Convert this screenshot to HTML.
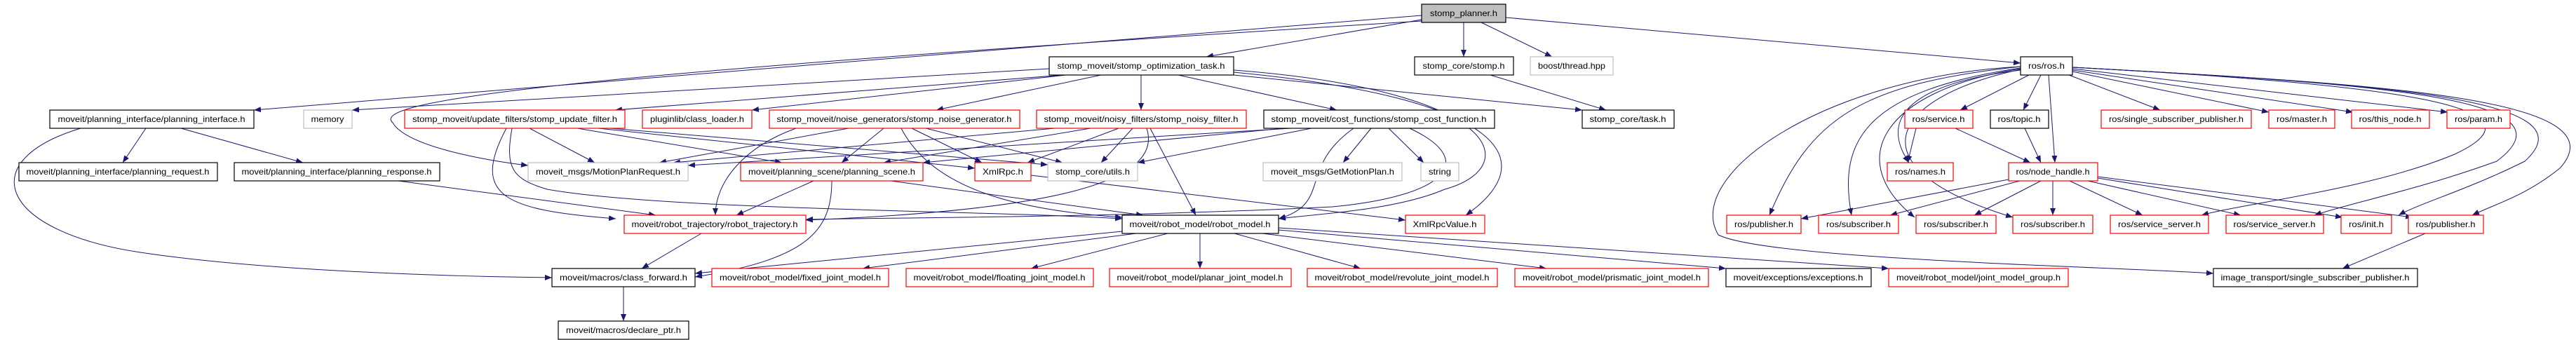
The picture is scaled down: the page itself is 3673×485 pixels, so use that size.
<!DOCTYPE html>
<html><head><meta charset="utf-8"><style>
html,body{margin:0;padding:0;background:#fff;}
svg{display:block;}
text{font-family:"Liberation Sans",sans-serif;font-size:12px;fill:#000;}
.e{stroke:#191970;stroke-width:1;fill:none;marker-end:url(#a);}
.b{fill:#fff;stroke:#000;stroke-width:1.2;}
.r{fill:#fff;stroke:#ff0000;stroke-width:1.2;}
.g{fill:#fff;stroke:#bfbfbf;stroke-width:1.2;}
</style></head><body>
<svg width="3673" height="485" viewBox="0 0 3673 485" xmlns="http://www.w3.org/2000/svg">
<defs><marker id="a" markerWidth="10" markerHeight="8" refX="10" refY="4" orient="auto" markerUnits="userSpaceOnUse"><polygon points="0,0 10,4 0,8" fill="#191970"/></marker></defs>
<g>
<line class="e" x1="2027" y1="28" x2="1720" y2="81"/>
<line class="e" x1="2027" y1="22" x2="362" y2="157"/>
<path class="e" d="M2027,30 C900,100 520,140 560,175 C580,210 700,230 753,236"/>
<line class="e" x1="2087" y1="32" x2="2087" y2="81"/>
<line class="e" x1="2112" y1="32" x2="2213" y2="81"/>
<line class="e" x1="2147" y1="25" x2="2881" y2="90"/>
<line class="e" x1="1496" y1="98" x2="502" y2="157"/>
<line class="e" x1="1516" y1="107" x2="877" y2="157"/>
<line class="e" x1="1520" y1="107" x2="1072" y2="157"/>
<line class="e" x1="1570" y1="107" x2="1335" y2="157"/>
<line class="e" x1="1627" y1="107" x2="1627" y2="157"/>
<line class="e" x1="1680" y1="107" x2="1906" y2="157"/>
<line class="e" x1="1759" y1="107" x2="2256" y2="157"/>
<path class="e" d="M1759,100 C2150,130 2170,240 2060,270 C1990,300 1880,305 1823,312"/>
<path class="e" d="M1759,103 C2150,140 2200,230 2090,307"/>
<line class="e" x1="2125" y1="107" x2="2290" y2="157"/>
<line class="e" x1="208" y1="183" x2="175" y2="232"/>
<line class="e" x1="258" y1="183" x2="432" y2="232"/>
<path class="e" d="M115,183 C-40,230 0,330 200,360 C400,390 700,395 787,396"/>
<line class="e" x1="568" y1="258" x2="935" y2="307"/>
<line class="e" x1="755" y1="183" x2="848" y2="232"/>
<path class="e" d="M722,183 C670,280 720,300 878,312"/>
<path class="e" d="M730,183 C720,240 730,255 780,270 C950,300 1400,300 1600,312"/>
<line class="e" x1="823" y1="183" x2="1115" y2="232"/>
<line class="e" x1="853" y1="183" x2="1390" y2="240"/>
<line class="e" x1="870" y1="183" x2="1494" y2="235"/>
<path class="e" d="M1135,183 C1060,210 1020,260 1020,307"/>
<line class="e" x1="1210" y1="183" x2="940" y2="232"/>
<line class="e" x1="1260" y1="183" x2="1200" y2="232"/>
<line class="e" x1="1300" y1="183" x2="1400" y2="232"/>
<line class="e" x1="1320" y1="183" x2="1515" y2="232"/>
<path class="e" d="M1285,183 C1330,270 1450,300 1600,310"/>
<line class="e" x1="1504" y1="183" x2="960" y2="232"/>
<line class="e" x1="1555" y1="183" x2="1260" y2="232"/>
<line class="e" x1="1595" y1="183" x2="1465" y2="232"/>
<line class="e" x1="1615" y1="183" x2="1570" y2="232"/>
<line class="e" x1="1640" y1="183" x2="1705" y2="307"/>
<path class="e" d="M1635,183 C1660,260 1500,300 1149,314"/>
<line class="e" x1="1840" y1="183" x2="981" y2="236"/>
<line class="e" x1="1870" y1="183" x2="1622" y2="232"/>
<line class="e" x1="1830" y1="183" x2="1316" y2="232"/>
<line class="e" x1="1955" y1="183" x2="1915" y2="232"/>
<line class="e" x1="1980" y1="183" x2="2030" y2="232"/>
<path class="e" d="M1930,183 C1850,240 1900,290 1823,312"/>
<path class="e" d="M2010,183 C2110,230 2060,280 1900,295 C1600,310 1300,310 1149,313"/>
<line class="e" x1="1470" y1="250" x2="2004" y2="314"/>
<line class="e" x1="1160" y1="258" x2="1050" y2="307"/>
<line class="e" x1="1270" y1="258" x2="1630" y2="307"/>
<path class="e" d="M1186,258 C1186,330 1150,370 991,395"/>
<line class="e" x1="1000" y1="333" x2="915" y2="383"/>
<line class="e" x1="1600" y1="330" x2="991" y2="390"/>
<line class="e" x1="1620" y1="333" x2="1230" y2="383"/>
<line class="e" x1="1665" y1="333" x2="1470" y2="383"/>
<line class="e" x1="1711" y1="333" x2="1711" y2="383"/>
<line class="e" x1="1760" y1="333" x2="1940" y2="383"/>
<line class="e" x1="1800" y1="333" x2="2205" y2="383"/>
<line class="e" x1="1823" y1="328" x2="2461" y2="383"/>
<line class="e" x1="1823" y1="325" x2="2693" y2="383"/>
<line class="e" x1="889" y1="409" x2="889" y2="458"/>
<line class="e" x1="2893" y1="107" x2="2795" y2="157"/>
<line class="e" x1="2910" y1="107" x2="2885" y2="157"/>
<line class="e" x1="2921" y1="107" x2="2930" y2="232"/>
<path class="e" d="M2881,100 C2720,120 2680,170 2722,232"/>
<path class="e" d="M2881,95 C2650,120 2580,170 2523,307"/>
<path class="e" d="M2881,97 C2660,130 2620,200 2640,307"/>
<path class="e" d="M2881,98 C2680,130 2630,230 2730,310"/>
<path class="e" d="M2881,99 C2690,140 2640,240 2870,310"/>
<path class="e" d="M2881,95 C2600,110 2400,250 2450,335 C2520,370 3000,380 3156,390"/>
<line class="e" x1="2950" y1="107" x2="3080" y2="157"/>
<line class="e" x1="2955" y1="102" x2="3235" y2="160"/>
<line class="e" x1="2955" y1="100" x2="3355" y2="160"/>
<line class="e" x1="2955" y1="98" x2="3490" y2="160"/>
<path class="e" d="M2955,96 C3400,120 3650,150 3500,220 C3380,270 3200,290 3139,307"/>
<path class="e" d="M2955,96 C3400,120 3680,140 3560,230 C3450,270 3350,290 3300,307"/>
<path class="e" d="M2955,96 C3400,120 3700,140 3600,230 C3520,270 3450,290 3420,307"/>
<path class="e" d="M2955,96 C3400,120 3740,140 3650,240 C3600,280 3560,290 3525,307"/>
<line class="e" x1="2732" y1="183" x2="2720" y2="232"/>
<line class="e" x1="2788" y1="183" x2="2895" y2="232"/>
<line class="e" x1="2887" y1="183" x2="2910" y2="232"/>
<line class="e" x1="2864" y1="256" x2="2568" y2="312"/>
<line class="e" x1="2880" y1="258" x2="2695" y2="307"/>
<line class="e" x1="2910" y1="258" x2="2815" y2="307"/>
<line class="e" x1="2927" y1="258" x2="2927" y2="307"/>
<line class="e" x1="2951" y1="258" x2="3055" y2="307"/>
<line class="e" x1="2977" y1="258" x2="3195" y2="307"/>
<line class="e" x1="2991" y1="254" x2="3340" y2="310"/>
<line class="e" x1="2991" y1="252" x2="3440" y2="310"/>
<line class="e" x1="3458" y1="333" x2="3340" y2="383"/>
</g>
<g>
<rect x="2027" y="6" width="120" height="26" fill="#bfbfbf" stroke="#000" stroke-width="1.2"/><text x="2087" y="23" text-anchor="middle" textLength="96" lengthAdjust="spacingAndGlyphs">stomp_planner.h</text>
<rect class="b" x="1496" y="81" width="263" height="26"/><text x="1627" y="98" text-anchor="middle" textLength="239" lengthAdjust="spacingAndGlyphs">stomp_moveit/stomp_optimization_task.h</text>
<rect class="b" x="2017" y="81" width="141" height="26"/><text x="2087" y="98" text-anchor="middle" textLength="117" lengthAdjust="spacingAndGlyphs">stomp_core/stomp.h</text>
<rect class="g" x="2182" y="81" width="118" height="26"/><text x="2241" y="98" text-anchor="middle" textLength="96" lengthAdjust="spacingAndGlyphs">boost/thread.hpp</text>
<rect class="b" x="2881" y="81" width="74" height="26"/><text x="2918" y="98" text-anchor="middle" textLength="52" lengthAdjust="spacingAndGlyphs">ros/ros.h</text>
<rect class="b" x="71" y="157" width="291" height="26"/><text x="216" y="174" text-anchor="middle" textLength="267" lengthAdjust="spacingAndGlyphs">moveit/planning_interface/planning_interface.h</text>
<rect class="g" x="433" y="157" width="69" height="26"/><text x="467" y="174" text-anchor="middle" textLength="47" lengthAdjust="spacingAndGlyphs">memory</text>
<rect class="r" x="577" y="157" width="314" height="26"/><text x="734" y="174" text-anchor="middle" textLength="292" lengthAdjust="spacingAndGlyphs">stomp_moveit/update_filters/stomp_update_filter.h</text>
<rect class="r" x="916" y="157" width="156" height="26"/><text x="994" y="174" text-anchor="middle" textLength="134" lengthAdjust="spacingAndGlyphs">pluginlib/class_loader.h</text>
<rect class="r" x="1097" y="157" width="357" height="26"/><text x="1275" y="174" text-anchor="middle" textLength="335" lengthAdjust="spacingAndGlyphs">stomp_moveit/noise_generators/stomp_noise_generator.h</text>
<rect class="r" x="1478" y="157" width="299" height="26"/><text x="1627" y="174" text-anchor="middle" textLength="277" lengthAdjust="spacingAndGlyphs">stomp_moveit/noisy_filters/stomp_noisy_filter.h</text>
<rect class="b" x="1802" y="157" width="329" height="26"/><text x="1966" y="174" text-anchor="middle" textLength="307" lengthAdjust="spacingAndGlyphs">stomp_moveit/cost_functions/stomp_cost_function.h</text>
<rect class="b" x="2256" y="157" width="131" height="26"/><text x="2321" y="174" text-anchor="middle" textLength="109" lengthAdjust="spacingAndGlyphs">stomp_core/task.h</text>
<rect class="r" x="2716" y="157" width="97" height="26"/><text x="2764" y="174" text-anchor="middle" textLength="75" lengthAdjust="spacingAndGlyphs">ros/service.h</text>
<rect class="b" x="2838" y="157" width="83" height="26"/><text x="2879" y="174" text-anchor="middle" textLength="61" lengthAdjust="spacingAndGlyphs">ros/topic.h</text>
<rect class="r" x="2996" y="157" width="214" height="26"/><text x="3103" y="174" text-anchor="middle" textLength="192" lengthAdjust="spacingAndGlyphs">ros/single_subscriber_publisher.h</text>
<rect class="r" x="3235" y="157" width="94" height="26"/><text x="3282" y="174" text-anchor="middle" textLength="72" lengthAdjust="spacingAndGlyphs">ros/master.h</text>
<rect class="r" x="3353" y="157" width="111" height="26"/><text x="3408" y="174" text-anchor="middle" textLength="89" lengthAdjust="spacingAndGlyphs">ros/this_node.h</text>
<rect class="r" x="3489" y="157" width="90" height="26"/><text x="3534" y="174" text-anchor="middle" textLength="68" lengthAdjust="spacingAndGlyphs">ros/param.h</text>
<rect class="b" x="27" y="232" width="283" height="26"/><text x="168" y="249" text-anchor="middle" textLength="261" lengthAdjust="spacingAndGlyphs">moveit/planning_interface/planning_request.h</text>
<rect class="b" x="334" y="232" width="293" height="26"/><text x="480" y="249" text-anchor="middle" textLength="271" lengthAdjust="spacingAndGlyphs">moveit/planning_interface/planning_response.h</text>
<rect class="g" x="753" y="232" width="228" height="26"/><text x="867" y="249" text-anchor="middle" textLength="206" lengthAdjust="spacingAndGlyphs">moveit_msgs/MotionPlanRequest.h</text>
<rect class="r" x="1056" y="232" width="260" height="26"/><text x="1186" y="249" text-anchor="middle" textLength="238" lengthAdjust="spacingAndGlyphs">moveit/planning_scene/planning_scene.h</text>
<rect class="r" x="1390" y="232" width="80" height="26"/><text x="1430" y="249" text-anchor="middle" textLength="58" lengthAdjust="spacingAndGlyphs">XmlRpc.h</text>
<rect class="g" x="1494" y="232" width="128" height="26"/><text x="1558" y="249" text-anchor="middle" textLength="106" lengthAdjust="spacingAndGlyphs">stomp_core/utils.h</text>
<rect class="g" x="1801" y="232" width="198" height="26"/><text x="1900" y="249" text-anchor="middle" textLength="176" lengthAdjust="spacingAndGlyphs">moveit_msgs/GetMotionPlan.h</text>
<rect class="g" x="2026" y="232" width="54" height="26"/><text x="2053" y="249" text-anchor="middle" textLength="32" lengthAdjust="spacingAndGlyphs">string</text>
<rect class="r" x="2691" y="232" width="94" height="26"/><text x="2738" y="249" text-anchor="middle" textLength="72" lengthAdjust="spacingAndGlyphs">ros/names.h</text>
<rect class="r" x="2864" y="232" width="127" height="26"/><text x="2927" y="249" text-anchor="middle" textLength="105" lengthAdjust="spacingAndGlyphs">ros/node_handle.h</text>
<rect class="r" x="890" y="307" width="259" height="26"/><text x="1019" y="324" text-anchor="middle" textLength="237" lengthAdjust="spacingAndGlyphs">moveit/robot_trajectory/robot_trajectory.h</text>
<rect class="b" x="1600" y="307" width="223" height="26"/><text x="1711" y="324" text-anchor="middle" textLength="201" lengthAdjust="spacingAndGlyphs">moveit/robot_model/robot_model.h</text>
<rect class="r" x="2004" y="307" width="113" height="26"/><text x="2060" y="324" text-anchor="middle" textLength="91" lengthAdjust="spacingAndGlyphs">XmlRpcValue.h</text>
<rect class="r" x="2462" y="307" width="106" height="26"/><text x="2515" y="324" text-anchor="middle" textLength="84" lengthAdjust="spacingAndGlyphs">ros/publisher.h</text>
<rect class="r" x="2593" y="307" width="114" height="26"/><text x="2650" y="324" text-anchor="middle" textLength="92" lengthAdjust="spacingAndGlyphs">ros/subscriber.h</text>
<rect class="r" x="2732" y="307" width="114" height="26"/><text x="2789" y="324" text-anchor="middle" textLength="92" lengthAdjust="spacingAndGlyphs">ros/subscriber.h</text>
<rect class="r" x="2870" y="307" width="114" height="26"/><text x="2927" y="324" text-anchor="middle" textLength="92" lengthAdjust="spacingAndGlyphs">ros/subscriber.h</text>
<rect class="r" x="3009" y="307" width="140" height="26"/><text x="3079" y="324" text-anchor="middle" textLength="118" lengthAdjust="spacingAndGlyphs">ros/service_server.h</text>
<rect class="r" x="3174" y="307" width="139" height="26"/><text x="3243" y="324" text-anchor="middle" textLength="117" lengthAdjust="spacingAndGlyphs">ros/service_server.h</text>
<rect class="r" x="3338" y="307" width="72" height="26"/><text x="3374" y="324" text-anchor="middle" textLength="50" lengthAdjust="spacingAndGlyphs">ros/init.h</text>
<rect class="r" x="3434" y="307" width="107" height="26"/><text x="3487" y="324" text-anchor="middle" textLength="85" lengthAdjust="spacingAndGlyphs">ros/publisher.h</text>
<rect class="b" x="787" y="383" width="204" height="26"/><text x="889" y="400" text-anchor="middle" textLength="182" lengthAdjust="spacingAndGlyphs">moveit/macros/class_forward.h</text>
<rect class="r" x="1015" y="383" width="252" height="26"/><text x="1141" y="400" text-anchor="middle" textLength="230" lengthAdjust="spacingAndGlyphs">moveit/robot_model/fixed_joint_model.h</text>
<rect class="r" x="1292" y="383" width="267" height="26"/><text x="1425" y="400" text-anchor="middle" textLength="245" lengthAdjust="spacingAndGlyphs">moveit/robot_model/floating_joint_model.h</text>
<rect class="r" x="1582" y="383" width="259" height="26"/><text x="1711" y="400" text-anchor="middle" textLength="237" lengthAdjust="spacingAndGlyphs">moveit/robot_model/planar_joint_model.h</text>
<rect class="r" x="1864" y="383" width="271" height="26"/><text x="1999" y="400" text-anchor="middle" textLength="249" lengthAdjust="spacingAndGlyphs">moveit/robot_model/revolute_joint_model.h</text>
<rect class="r" x="2160" y="383" width="276" height="26"/><text x="2298" y="400" text-anchor="middle" textLength="254" lengthAdjust="spacingAndGlyphs">moveit/robot_model/prismatic_joint_model.h</text>
<rect class="b" x="2461" y="383" width="207" height="26"/><text x="2564" y="400" text-anchor="middle" textLength="185" lengthAdjust="spacingAndGlyphs">moveit/exceptions/exceptions.h</text>
<rect class="r" x="2693" y="383" width="256" height="26"/><text x="2821" y="400" text-anchor="middle" textLength="234" lengthAdjust="spacingAndGlyphs">moveit/robot_model/joint_model_group.h</text>
<rect class="b" x="3156" y="383" width="291" height="26"/><text x="3301" y="400" text-anchor="middle" textLength="269" lengthAdjust="spacingAndGlyphs">image_transport/single_subscriber_publisher.h</text>
<rect class="b" x="796" y="458" width="186" height="26"/><text x="889" y="475" text-anchor="middle" textLength="164" lengthAdjust="spacingAndGlyphs">moveit/macros/declare_ptr.h</text>
</g>
</svg>
</body></html>
